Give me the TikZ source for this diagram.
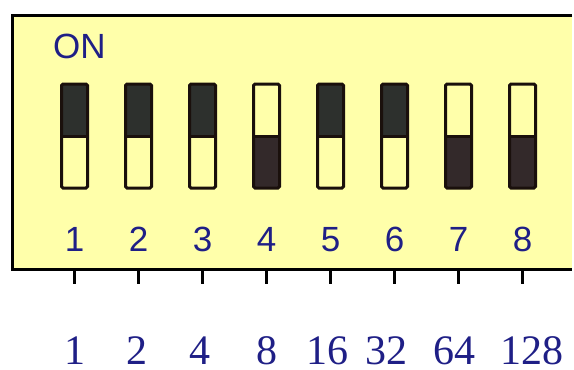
\documentclass[tikz,border=0pt]{standalone}
\usepackage{fontspec}
\setmainfont{Liberation Serif}
\newfontfamily\dipsans{Liberation Sans}
\usepackage{xcolor}
\usepackage{tikz}

\definecolor{panelyellow}{HTML}{FFFFAA}
\definecolor{leverdark}{HTML}{2D302D}
\definecolor{leverbrown}{HTML}{33292A}
\definecolor{labelblue}{HTML}{1F1F86}
\definecolor{edgedark}{HTML}{1A100C}

\begin{document}
\begin{tikzpicture}[
    x=0.5pt,  % 1 unit = 1 px of the 574x370 frame
    y=-0.5pt, % y runs downwards
    switchbox/.style={draw=edgedark, line width=1.5pt, rounded corners=0.8pt},
    toplabel/.style={font=\dipsans\fontsize{17.5}{20}\selectfont, text=labelblue, anchor=base},
    weightlabel/.style={font=\fontsize{21}{24}\selectfont, text=labelblue, anchor=base, inner sep=0pt}
]
    \useasboundingbox (0,0) rectangle (574,370);

    % --- panel ---
    \fill[panelyellow] (12,15) rectangle (572,269);
    \draw[line width=1.5pt] (572,15) -- (12,15) -- (12,269) -- (572,269);

    \node[toplabel, anchor=base west] (on) at (46,58) {ON};

    % --- switches (index / lever up = 1) ---
    \foreach \i/\up in {1/1, 2/1, 3/1, 4/0, 5/1, 6/1, 7/0, 8/0} {
        \pgfmathsetmacro{\cx}{74.5+64*(\i-1)}
        \ifnum\up=1
            \fill[leverdark] (\cx-13,84) rectangle (\cx+13,136);
        \else
            \fill[leverbrown] (\cx-13,136) rectangle (\cx+13,188);
        \fi
        \draw[switchbox] (\cx-13,84) rectangle (\cx+13,188);
        \draw[edgedark, line width=1.5pt] (\cx-13,136) -- (\cx+13,136);
        \node[toplabel] (pos\i) at (\cx,251) {\i};
        \draw[line width=1.5pt] (\cx,269) -- (\cx,284);
    }

    % --- bit weights ---
    \foreach \w/\wx in {1/75, 2/137, 4/200, 8/267, 16/327, 32/386, 64/454, 128/532} {
        \node[weightlabel] (w\w) at (\wx,364) {\w};
    }
\end{tikzpicture}
\end{document}
